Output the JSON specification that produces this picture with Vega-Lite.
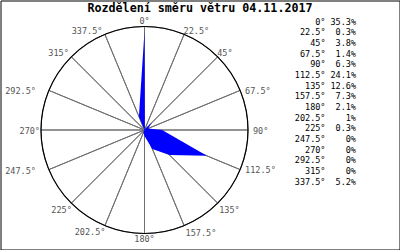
{
  "$schema": "https://vega.github.io/schema/vega-lite/v6.json",
  "width": 399,
  "height": 249,
  "padding": 0.5,
  "autosize": {"type": "none"},
  "background": "white",
  "title": {
    "text": "Rozdělení směru větru 04.11.2017",
    "font": "DejaVu Sans Mono",
    "fontSize": 11.7,
    "fontWeight": "bold",
    "color": "#000000",
    "anchor": "middle",
    "frame": "group",
    "baseline": "alphabetic",
    "offset": -12,
    "dy": 11.5
  },
  "datasets": {
    "wind": [
      {"a": 0, "p": 35.3},
      {"a": 22.5, "p": 0.3},
      {"a": 45, "p": 3.8},
      {"a": 67.5, "p": 1.4},
      {"a": 90, "p": 6.3},
      {"a": 112.5, "p": 24.1},
      {"a": 135, "p": 12.6},
      {"a": 157.5, "p": 7.3},
      {"a": 180, "p": 2.1},
      {"a": 202.5, "p": 1},
      {"a": 225, "p": 0.3},
      {"a": 247.5, "p": 0},
      {"a": 270, "p": 0},
      {"a": 292.5, "p": 0},
      {"a": 315, "p": 0},
      {"a": 337.5, "p": 5.2}
    ]
  },
  "resolve": {"scale": {"x": "independent", "y": "independent", "theta": "independent"}},
  "layer": [
    {
      "data": {"name": "wind"},
      "mark": {"type": "arc", "filled": false, "color": "#707070", "strokeWidth": 1, "outerRadius": 103.5},
      "encoding": {
        "theta": {"aggregate": "count", "type": "quantitative"},
        "detail": {"field": "a", "type": "nominal"},
        "x": {"datum": 0, "type": "quantitative", "scale": {"domain": [-51.4286, 91.0714], "nice": false, "zero": false}},
        "y": {"datum": 0, "type": "quantitative", "scale": {"domain": [-42.6786, 46.25], "nice": false, "zero": false}}
      }
    },
    {
      "data": {"name": "wind"},
      "mark": {"type": "arc", "filled": false, "color": "#000000", "strokeWidth": 1.2, "outerRadius": 103.5},
      "encoding": {
        "theta": {"aggregate": "count", "type": "quantitative"},
        "x": {"datum": 0, "type": "quantitative", "scale": {"domain": [-51.4286, 91.0714], "nice": false, "zero": false}},
        "y": {"datum": 0, "type": "quantitative", "scale": {"domain": [-42.6786, 46.25], "nice": false, "zero": false}}
      }
    },
    {
      "data": {"name": "wind"},
      "transform": [
        {"calculate": "datum.p * sin(datum.a * PI / 180)", "as": "px"},
        {"calculate": "datum.p * cos(datum.a * PI / 180)", "as": "py"}
      ],
      "mark": {"type": "line", "filled": true, "color": "#0000ff", "strokeWidth": 0, "interpolate": "linear"},
      "encoding": {
        "x": {"field": "px", "type": "quantitative", "scale": {"domain": [-51.4286, 91.0714], "nice": false, "zero": false}},
        "y": {"field": "py", "type": "quantitative", "scale": {"domain": [-42.6786, 46.25], "nice": false, "zero": false}},
        "order": {"field": "a", "type": "quantitative"}
      }
    },
    {
      "data": {"name": "wind"},
      "transform": [{"filter": "datum.a == 0 || datum.a == 180"}, {"calculate": "datum.a + '°'", "as": "deg"}],
      "mark": {"type": "text", "font": "DejaVu Sans Mono", "fontSize": 8.5, "color": "#555555", "align": "center", "baseline": "middle"},
      "encoding": {
        "x": {"datum": 0, "type": "quantitative", "scale": {"domain": [-51.4286, 91.0714], "nice": false, "zero": false}},
        "y": {"datum": 0, "type": "quantitative", "scale": {"domain": [-42.6786, 46.25], "nice": false, "zero": false}},
        "theta": {"field": "a", "type": "quantitative", "stack": null, "scale": {"domain": [0, 360], "range": [0, 6.283185307]}},
        "radius": {"value": 109.3},
        "text": {"field": "deg"}
      }
    },
    {
      "data": {"name": "wind"},
      "transform": [{"filter": "datum.a == 22.5 || datum.a == 45"}, {"calculate": "datum.a + '°'", "as": "deg"}],
      "mark": {"type": "text", "font": "DejaVu Sans Mono", "fontSize": 8.5, "color": "#555555", "align": "left", "baseline": "middle", "dx": -0.5, "dy": -3.8},
      "encoding": {
        "x": {"datum": 0, "type": "quantitative", "scale": {"domain": [-51.4286, 91.0714], "nice": false, "zero": false}},
        "y": {"datum": 0, "type": "quantitative", "scale": {"domain": [-42.6786, 46.25], "nice": false, "zero": false}},
        "theta": {"field": "a", "type": "quantitative", "stack": null, "scale": {"domain": [0, 360], "range": [0, 6.283185307]}},
        "radius": {"value": 103.5},
        "text": {"field": "deg"}
      }
    },
    {
      "data": {"name": "wind"},
      "transform": [{"filter": "datum.a == 67.5 || datum.a == 90 || datum.a == 112.5"}, {"calculate": "datum.a + '°'", "as": "deg"}],
      "mark": {"type": "text", "font": "DejaVu Sans Mono", "fontSize": 8.5, "color": "#555555", "align": "left", "baseline": "middle", "dx": 5, "dy": 0.8},
      "encoding": {
        "x": {"datum": 0, "type": "quantitative", "scale": {"domain": [-51.4286, 91.0714], "nice": false, "zero": false}},
        "y": {"datum": 0, "type": "quantitative", "scale": {"domain": [-42.6786, 46.25], "nice": false, "zero": false}},
        "theta": {"field": "a", "type": "quantitative", "stack": null, "scale": {"domain": [0, 360], "range": [0, 6.283185307]}},
        "radius": {"value": 103.5},
        "text": {"field": "deg"}
      }
    },
    {
      "data": {"name": "wind"},
      "transform": [{"filter": "datum.a == 135 || datum.a == 157.5"}, {"calculate": "datum.a + '°'", "as": "deg"}],
      "mark": {"type": "text", "font": "DejaVu Sans Mono", "fontSize": 8.5, "color": "#555555", "align": "left", "baseline": "middle", "dx": 1.5, "dy": 7.2},
      "encoding": {
        "x": {"datum": 0, "type": "quantitative", "scale": {"domain": [-51.4286, 91.0714], "nice": false, "zero": false}},
        "y": {"datum": 0, "type": "quantitative", "scale": {"domain": [-42.6786, 46.25], "nice": false, "zero": false}},
        "theta": {"field": "a", "type": "quantitative", "stack": null, "scale": {"domain": [0, 360], "range": [0, 6.283185307]}},
        "radius": {"value": 103.5},
        "text": {"field": "deg"}
      }
    },
    {
      "data": {"name": "wind"},
      "transform": [{"filter": "datum.a == 202.5 || datum.a == 225"}, {"calculate": "datum.a + '°'", "as": "deg"}],
      "mark": {"type": "text", "font": "DejaVu Sans Mono", "fontSize": 8.5, "color": "#555555", "align": "right", "baseline": "middle", "dx": 0.5, "dy": 6.7},
      "encoding": {
        "x": {"datum": 0, "type": "quantitative", "scale": {"domain": [-51.4286, 91.0714], "nice": false, "zero": false}},
        "y": {"datum": 0, "type": "quantitative", "scale": {"domain": [-42.6786, 46.25], "nice": false, "zero": false}},
        "theta": {"field": "a", "type": "quantitative", "stack": null, "scale": {"domain": [0, 360], "range": [0, 6.283185307]}},
        "radius": {"value": 103.5},
        "text": {"field": "deg"}
      }
    },
    {
      "data": {"name": "wind"},
      "transform": [{"filter": "datum.a == 247.5 || datum.a == 292.5"}, {"calculate": "datum.a + '°'", "as": "deg"}],
      "mark": {"type": "text", "font": "DejaVu Sans Mono", "fontSize": 8.5, "color": "#555555", "align": "right", "baseline": "middle", "dx": -13, "dy": 1},
      "encoding": {
        "x": {"datum": 0, "type": "quantitative", "scale": {"domain": [-51.4286, 91.0714], "nice": false, "zero": false}},
        "y": {"datum": 0, "type": "quantitative", "scale": {"domain": [-42.6786, 46.25], "nice": false, "zero": false}},
        "theta": {"field": "a", "type": "quantitative", "stack": null, "scale": {"domain": [0, 360], "range": [0, 6.283185307]}},
        "radius": {"value": 103.5},
        "text": {"field": "deg"}
      }
    },
    {
      "data": {"name": "wind"},
      "transform": [{"filter": "datum.a == 270"}, {"calculate": "datum.a + '°'", "as": "deg"}],
      "mark": {"type": "text", "font": "DejaVu Sans Mono", "fontSize": 8.5, "color": "#555555", "align": "right", "baseline": "middle", "dx": -1, "dy": 1},
      "encoding": {
        "x": {"datum": 0, "type": "quantitative", "scale": {"domain": [-51.4286, 91.0714], "nice": false, "zero": false}},
        "y": {"datum": 0, "type": "quantitative", "scale": {"domain": [-42.6786, 46.25], "nice": false, "zero": false}},
        "theta": {"field": "a", "type": "quantitative", "stack": null, "scale": {"domain": [0, 360], "range": [0, 6.283185307]}},
        "radius": {"value": 103.5},
        "text": {"field": "deg"}
      }
    },
    {
      "data": {"name": "wind"},
      "transform": [{"filter": "datum.a == 315 || datum.a == 337.5"}, {"calculate": "datum.a + '°'", "as": "deg"}],
      "mark": {"type": "text", "font": "DejaVu Sans Mono", "fontSize": 8.5, "color": "#555555", "align": "right", "baseline": "middle", "dx": -2.5, "dy": -3.8},
      "encoding": {
        "x": {"datum": 0, "type": "quantitative", "scale": {"domain": [-51.4286, 91.0714], "nice": false, "zero": false}},
        "y": {"datum": 0, "type": "quantitative", "scale": {"domain": [-42.6786, 46.25], "nice": false, "zero": false}},
        "theta": {"field": "a", "type": "quantitative", "stack": null, "scale": {"domain": [0, 360], "range": [0, 6.283185307]}},
        "radius": {"value": 103.5},
        "text": {"field": "deg"}
      }
    },
    {
      "data": {"name": "wind"},
      "transform": [{"calculate": "datum.a + '°'", "as": "deg"}],
      "mark": {"type": "text", "font": "DejaVu Sans Mono", "fontSize": 8.5, "color": "#000000", "align": "right", "baseline": "middle"},
      "encoding": {
        "x": {"datum": 0, "type": "quantitative", "scale": {"domain": [0, 1], "range": [325, 355.5]}},
        "y": {"field": "a", "type": "quantitative", "scale": {"domain": [0, 337.5], "range": [21, 181], "nice": false, "zero": false}},
        "text": {"field": "deg"}
      }
    },
    {
      "data": {"name": "wind"},
      "transform": [{"calculate": "datum.p + '%'", "as": "pct"}],
      "mark": {"type": "text", "font": "DejaVu Sans Mono", "fontSize": 8.5, "color": "#000000", "align": "right", "baseline": "middle"},
      "encoding": {
        "x": {"datum": 1, "type": "quantitative", "scale": {"domain": [0, 1], "range": [325, 355.5]}},
        "y": {"field": "a", "type": "quantitative", "scale": {"domain": [0, 337.5], "range": [21, 181], "nice": false, "zero": false}},
        "text": {"field": "pct"}
      }
    }
  ],
  "config": {
    "view": {"stroke": "#000000", "strokeWidth": 1},
    "axis": {"disable": true}
  }
}
